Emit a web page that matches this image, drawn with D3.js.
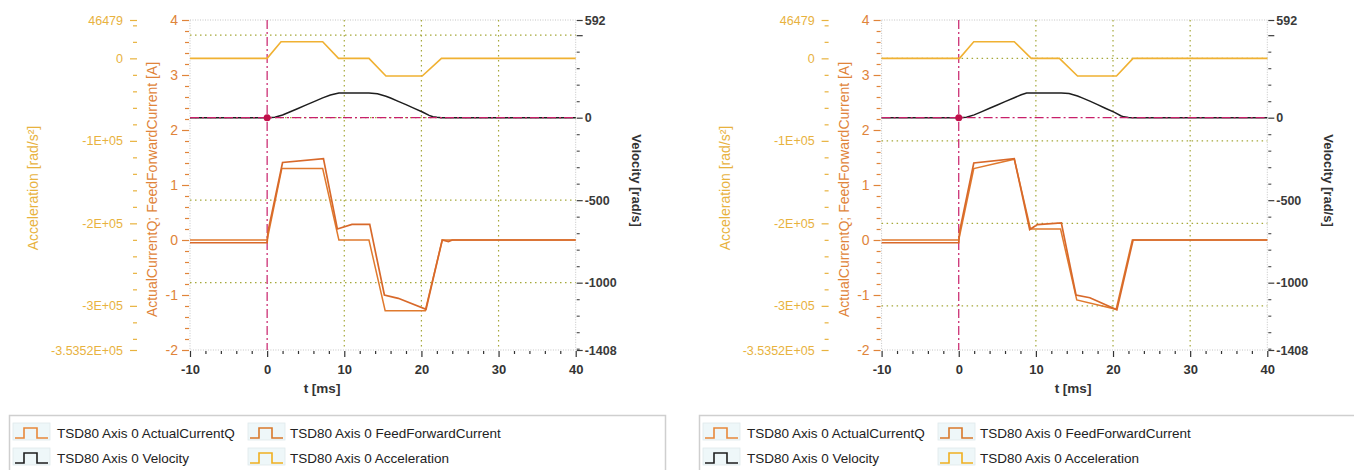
<!DOCTYPE html>
<html><head><meta charset="utf-8">
<script src="https://cdn.jsdelivr.net/npm/d3@7"></script>
<style>
body{margin:0;background:#fff;}
svg{display:block;}
</style></head><body>
<svg id="c" width="1354" height="470"></svg>
<script>
// ---------- data ----------
const timeDomain = [-10, 40];
const xTickValues = [-10, 0, 10, 20, 30, 40];
const xTickLabels = ["-10", "0", "10", "20", "30", "40"];
const accDomain = [-353520, 46479];
const accTickValues = [46479, 0, -100000, -200000, -300000, -353520];
const accTickLabels = ["46479", "0", "-1E+05", "-2E+05", "-3E+05", "-3.5352E+05"];
const curDomain = [-2, 4];
const curTickValues = [4, 3, 2, 1, 0, -1, -2];
const curTickLabels = ["4", "3", "2", "1", "0", "-1", "-2"];
const velDomain = [-1408, 592];
const velTickValues = [592, 500, 0, -500, -1000, -1408];
const velTickLabels = ["592", "", "0", "-500", "-1000", "-1408"];

const seriesNames = ["TSD80 Axis 0 ActualCurrentQ", "TSD80 Axis 0 FeedForwardCurrent",
                     "TSD80 Axis 0 Velocity", "TSD80 Axis 0 Acceleration"];

// left panel  [t ms, value]
const leftAcceleration = [[-10,0],[0,0],[1.8,20200],[7.2,20200],[9.25,0],[13.2,0],[15.4,-21400],[20.1,-21400],[22.6,0],[40,0]];
const leftVelocity = [[-10,0],[0,0],[1,3],[2,16],[3,36],[4,56],[5,76],[6,96],[7.2,120],[8.2,137],[9.3,150],[13.2,150],[14.3,145],[15.4,130],[16,119],[17,99],[18,79],[19,58],[20.2,33],[21,14],[21.5,6],[22,2],[22.6,0],[40,0]];
const leftFeedForward = [[-10,0],[0,0],[1.9,1.30],[7.2,1.30],[9.3,0],[13.2,0],[15.3,-1.285],[20.5,-1.285],[22.7,0],[40,0]];
const leftActualCurrentQ = [[-10,-0.05],[0,-0.05],[0.1,0.15],[2.0,1.41],[7.3,1.48],[9.1,0.2],[11,0.285],[13.3,0.285],[15.2,-1.0],[17,-1.06],[20.6,-1.26],[22.7,0],[23.5,-0.03],[24,0],[40,0]];

// right panel
const rightAcceleration = [[-10,0],[0.1,0],[1.95,20200],[7.2,20200],[9.4,0],[13.05,0],[15.4,-21400],[20.45,-21400],[22.6,0],[40,0]];
const rightVelocity = [[-10,0],[0,0],[1,3],[2,17],[3,37],[4,57],[5,77],[6,97],[7.2,121],[8.1,139],[8.8,150],[13.3,150],[14.3,146],[15.4,131],[16,120],[17,100],[18,79],[19,57],[20.2,32],[21,12],[21.4,5],[22,1],[22.5,0],[40,0]];
const rightFeedForward = [[-10,0],[0,0],[1.95,1.30],[7.2,1.47],[9.3,0.2],[13.2,0.2],[15.3,-1.09],[20.4,-1.26],[22.5,0],[40,0]];
const rightActualCurrentQ = [[-10,-0.05],[0,-0.05],[0.1,0.15],[1.95,1.40],[7.2,1.48],[9.2,0.19],[10.2,0.28],[13.3,0.31],[15.2,-1.0],[17,-1.05],[20.5,-1.27],[22.6,0],[40,0]];

// grid rules per panel
const leftGridVelocity = [500, 0, -500, -1000];
const rightGridAcceleration = [0, -100000, -200000, -300000];
const gridTimes = [10, 20, 30];

// ---------- style ----------
const C = {
  acc: "#f0b132", accText: "#e8b23e",
  cur: "#e07a2e", act: "#d8692a", curText: "#e0843a",
  vel: "#1e1e1e", velText: "#333",
  grid: "#a5a83a", border: "#c4c4c4", cursor: "#c8206a", dot: "#c0104a"
};
const SANS = "'Liberation Sans',Arial,sans-serif";

const svg = d3.select("#c");
const PW = 385.7, PH = 330, PT = 20;

function drawPanel(ox, d, grid, tLabelX) {
  const x = d3.scaleLinear().domain(timeDomain).range([0, PW]);
  const yA = d3.scaleLinear().domain(accDomain).range([PH, 0]);
  const yC = d3.scaleLinear().domain(curDomain).range([PH, 0]);
  const yV = d3.scaleLinear().domain(velDomain).range([PH, 0]);

  const g = svg.append("g").attr("transform", `translate(${ox},${PT})`);

  // border
  g.append("rect").attr("x", 0).attr("y", 0).attr("width", PW).attr("height", PH)
    .attr("fill", "none").attr("stroke", C.border).attr("stroke-width", 1)
    .attr("stroke-dasharray", "1,1.5");

  // grid
  const gg = g.append("g").attr("stroke", C.grid).attr("stroke-width", 1.2).attr("stroke-dasharray", "1.5,3.5");
  gridTimes.forEach(t => gg.append("line").attr("x1", x(t)).attr("x2", x(t)).attr("y1", 0).attr("y2", PH));
  if (grid.type === "vel") grid.values.forEach(v => gg.append("line").attr("x1", 0).attr("x2", PW).attr("y1", yV(v)).attr("y2", yV(v)));
  else grid.values.forEach(v => gg.append("line").attr("x1", 0).attr("x2", PW).attr("y1", yA(v)).attr("y2", yA(v)));

  // cursor vertical
  g.append("line").attr("x1", x(0)).attr("x2", x(0)).attr("y1", 0).attr("y2", PH)
    .attr("stroke", C.cursor).attr("stroke-width", 1.2).attr("stroke-dasharray", "9,3,2,3");

  const line = (ys) => d3.line().x(p => x(p[0])).y(p => ys(p[1]));
  g.append("path").datum(d.acc).attr("d", line(yA)).attr("fill", "none").attr("stroke", C.acc).attr("stroke-width", 1.6);
  g.append("path").datum(d.vel).attr("d", line(yV)).attr("fill", "none").attr("stroke", C.vel).attr("stroke-width", 1.5);
  g.append("path").datum(d.ff).attr("d", line(yC)).attr("fill", "none").attr("stroke", C.cur).attr("stroke-width", 1.5);
  g.append("path").datum(d.act).attr("d", line(yC)).attr("fill", "none").attr("stroke", C.act).attr("stroke-width", 1.7);

  // cursor horizontal + dot
  g.append("line").attr("x1", 0).attr("x2", PW).attr("y1", yV(0)).attr("y2", yV(0))
    .attr("stroke", C.cursor).attr("stroke-width", 1.2).attr("stroke-dasharray", "9,3,2,3");
  g.append("circle").attr("cx", x(0)).attr("cy", yV(0)).attr("r", 3.5).attr("fill", C.dot);

  // ---- axes ----
  function styleAxis(sel, color, size, weight) {
    sel.select(".domain").remove();
    sel.selectAll(".tick line").attr("stroke", color).attr("stroke-width", 1.2);
    sel.selectAll(".tick text").attr("fill", color)
      .style("font-family", SANS).style("font-size", size + "px").style("font-weight", weight);
  }

  // acceleration axis
  const accMinor = d3.range(40000, -353520, -20000).filter(v => v % 100000 !== 0);
  const ga = g.append("g").attr("transform", "translate(-53,0)");
  ga.append("g").call(d3.axisLeft(yA).tickValues(accMinor).tickSize(4).tickFormat(""))
    .call(s => { s.select(".domain").remove(); s.selectAll("line").attr("stroke", C.accText).attr("stroke-width", 1.2); });
  ga.append("g").call(d3.axisLeft(yA).tickValues(accTickValues).tickSize(7).tickPadding(7)
      .tickFormat((v, i) => accTickLabels[i]))
    .call(s => styleAxis(s, C.accText, 12.5, "normal"));

  // current axis
  const curMinor = d3.range(-1.8, 4, 0.2).map(v => Math.round(v * 10) / 10).filter(v => Math.abs(v - Math.round(v)) > 1e-6);
  const gc = g.append("g").attr("transform", "translate(-1,0)");
  gc.append("g").call(d3.axisLeft(yC).tickValues(curMinor).tickSize(4).tickFormat(""))
    .call(s => { s.select(".domain").remove(); s.selectAll("line").attr("stroke", C.curText).attr("stroke-width", 1.2); });
  gc.append("g").call(d3.axisLeft(yC).tickValues(curTickValues).tickSize(7).tickPadding(4)
      .tickFormat((v, i) => curTickLabels[i]))
    .call(s => styleAxis(s, C.curText, 14, "normal"));

  // velocity axis
  const velMinor = d3.range(500, -1408, -100).filter(v => v % 500 !== 0);
  const gv = g.append("g").attr("transform", `translate(${PW + 1},0)`);
  gv.append("g").call(d3.axisRight(yV).tickValues(velMinor).tickSize(3).tickFormat(""))
    .call(s => { s.select(".domain").remove(); s.selectAll("line").attr("stroke", "#555").attr("stroke-width", 1.2); });
  gv.append("g").call(d3.axisRight(yV).tickValues(velTickValues).tickSize(6).tickPadding(2)
      .tickFormat((v, i) => velTickLabels[i]))
    .call(s => styleAxis(s, "#3a3a3a", 12.5, "bold"));

  // time axis
  const tMinor = d3.range(-10, 40.1, 2).filter(v => v % 10 !== 0);
  const gx = g.append("g").attr("transform", `translate(0,${PH + 1})`);
  gx.append("g").call(d3.axisBottom(x).tickValues(tMinor).tickSize(3).tickFormat(""))
    .call(s => { s.select(".domain").remove(); s.selectAll("line").attr("stroke", "#333").attr("stroke-width", 1.2); });
  gx.append("g").call(d3.axisBottom(x).tickValues(xTickValues).tickSize(6).tickPadding(8)
      .tickFormat((v, i) => xTickLabels[i]))
    .call(s => styleAxis(s, "#333", 13, "bold"));

  // titles
  svg.append("text").attr("transform", `translate(${ox - 157},188) rotate(-90)`)
    .attr("text-anchor", "middle").attr("dy", "0.35em")
    .style("font-family", SANS).style("font-size", "14px").attr("fill", C.accText)
    .text("Acceleration [rad/s²]");
  svg.append("text").attr("transform", `translate(${ox - 38},189.5) rotate(-90)`)
    .attr("text-anchor", "middle").attr("dy", "0.35em")
    .style("font-family", SANS).style("font-size", "14px").attr("fill", C.curText)
    .text("ActualCurrentQ; FeedForwardCurrent [A]");
  svg.append("text").attr("transform", `translate(${ox + 446.5},180.5) rotate(90)`)
    .attr("text-anchor", "middle").attr("dy", "0.35em")
    .style("font-family", SANS).style("font-size", "13px").style("font-weight", "bold").attr("fill", "#333")
    .text("Velocity [rad/s]");
  svg.append("text").attr("x", tLabelX).attr("y", 393).attr("text-anchor", "middle")
    .style("font-family", SANS).style("font-size", "13.5px").style("font-weight", "bold").attr("fill", "#333")
    .text("t [ms]");
}

function drawLegend(lx, w) {
  const g = svg.append("g").attr("transform", `translate(${lx},0)`);
  g.append("rect").attr("x", 0.5).attr("y", 415.5).attr("width", w).attr("height", 70)
    .attr("fill", "#fff").attr("stroke", "#cfcfcf").attr("stroke-width", 1.5);
  const items = [
    {name: seriesNames[0], color: "#e8883a", col: 0, row: 0},
    {name: seriesNames[1], color: "#d9782a", col: 1, row: 0},
    {name: seriesNames[2], color: "#1e1e1e", col: 0, row: 1},
    {name: seriesNames[3], color: "#f0b020", col: 1, row: 1}
  ];
  const colIcon = [4, 239], colText = [48, 281], rowY = [423, 448];
  items.forEach(it => {
    const ix = colIcon[it.col], iy = rowY[it.row];
    g.append("rect").attr("x", ix).attr("y", iy).attr("width", 37).attr("height", 17)
      .attr("fill", "#eef7f9").attr("stroke", "#dfe9ec").attr("stroke-width", 0.8);
    g.append("path").attr("d", `M${ix + 2},${iy + 15}H${ix + 11}V${iy + 5}H${ix + 24}V${iy + 15}H${ix + 35}`)
      .attr("fill", "none").attr("stroke", it.color).attr("stroke-width", 1.6);
    g.append("text").attr("x", colText[it.col]).attr("y", iy + 14.5)
      .style("font-family", SANS).style("font-size", "13.5px")
      .attr("fill", "#222").text(it.name);
  });
}

drawPanel(190, {acc: leftAcceleration, vel: leftVelocity, ff: leftFeedForward, act: leftActualCurrentQ},
  {type: "vel", values: leftGridVelocity}, 322);
drawPanel(881.6, {acc: rightAcceleration, vel: rightVelocity, ff: rightFeedForward, act: rightActualCurrentQ},
  {type: "acc", values: rightGridAcceleration}, 1073);
drawLegend(9, 656);
drawLegend(699, 660);
</script>
</body></html>
